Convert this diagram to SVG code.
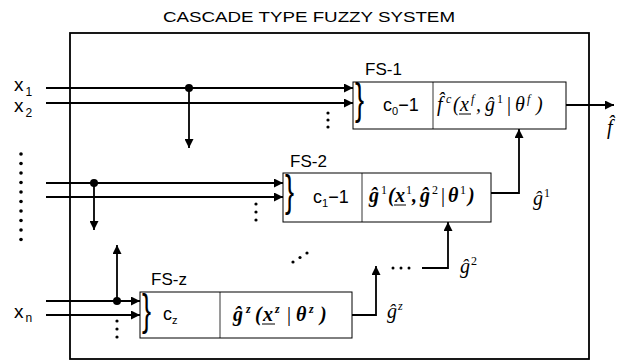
<svg xmlns="http://www.w3.org/2000/svg" width="625" height="363" viewBox="0 0 625 363">
<style>
.ln{stroke:#000;stroke-width:1.8;fill:none}
.bx{stroke:#000;stroke-width:1;fill:#fff}
.dv{stroke:#000;stroke-width:0.8}
.sans{font-family:"Liberation Sans",Arial,sans-serif;fill:#000}
.fm{font-family:"Liberation Serif","Times New Roman",serif;font-style:italic;font-size:20px;fill:#000}
.fb{font-family:"Liberation Serif","Times New Roman",serif;font-style:italic;font-weight:bold;font-size:20px;fill:#000}
.br{font-family:"Liberation Sans",Arial,sans-serif;font-size:30px;fill:#000}
.ul{stroke:#000;stroke-width:1}
.up{font-style:normal;font-weight:normal}
.sp{font-size:12px}
</style>
<defs>
<marker id="ah" viewBox="0 0 10 10" refX="10" refY="5" markerWidth="10" markerHeight="9" markerUnits="userSpaceOnUse" orient="auto">
<path d="M0,0 L10,5 L0,10 Z" fill="#000"/>
</marker>
</defs>
<rect width="625" height="363" fill="#fff"/>
<text class="sans" x="163" y="22" font-size="14.5" textLength="292" lengthAdjust="spacingAndGlyphs">CASCADE TYPE FUZZY SYSTEM</text>
<rect x="70" y="33" width="519" height="326" fill="none" stroke="#000" stroke-width="1.8"/>
<g id="inputs">
<text class="sans" x="14" y="91" font-size="19">x<tspan font-size="12" dx="2" dy="5">1</tspan></text>
<text class="sans" x="14" y="112" font-size="19">x<tspan font-size="12" dx="2" dy="5">2</tspan></text>
<text class="sans" x="14" y="318" font-size="19">x<tspan font-size="12" dx="2" dy="4">n</tspan></text>
<g fill="#000">
<circle cx="21" cy="154" r="1.8"/><circle cx="21" cy="163.5" r="1.8"/><circle cx="21" cy="173" r="1.8"/><circle cx="21" cy="182.5" r="1.8"/><circle cx="21" cy="192" r="1.8"/><circle cx="21" cy="201.5" r="1.8"/><circle cx="21" cy="211" r="1.8"/><circle cx="21" cy="220.5" r="1.8"/><circle cx="21" cy="230" r="1.8"/><circle cx="21" cy="239.5" r="1.8"/>
</g>
</g>
<g id="connectors">
<line class="ln" x1="46" y1="88" x2="353" y2="88" marker-end="url(#ah)"/>
<line class="ln" x1="46" y1="103" x2="353" y2="103" marker-end="url(#ah)"/>
<line class="ln" x1="189" y1="88" x2="189" y2="148" marker-end="url(#ah)"/>
<circle cx="189" cy="88" r="4" fill="#000"/>
<line class="ln" x1="46" y1="183" x2="283" y2="183" marker-end="url(#ah)"/>
<line class="ln" x1="46" y1="197" x2="283" y2="197" marker-end="url(#ah)"/>
<line class="ln" x1="94" y1="183" x2="94" y2="230" marker-end="url(#ah)"/>
<circle cx="94" cy="183" r="4" fill="#000"/>
<line class="ln" x1="46" y1="301" x2="140" y2="301" marker-end="url(#ah)"/>
<line class="ln" x1="46" y1="315" x2="140" y2="315" marker-end="url(#ah)"/>
<line class="ln" x1="117" y1="301" x2="117" y2="245" marker-end="url(#ah)"/>
<circle cx="117" cy="301" r="4" fill="#000"/>
<line class="ln" x1="566" y1="105" x2="614" y2="105" marker-end="url(#ah)"/>
<polyline class="ln" points="491,193 519,193 519,129" marker-end="url(#ah)"/>
<polyline class="ln" points="422,268 448,268 448,222" marker-end="url(#ah)"/>
<polyline class="ln" points="352,315 376,315 376,266" marker-end="url(#ah)"/>
<g fill="#000">
<circle cx="328" cy="113" r="1.6"/><circle cx="328" cy="120" r="1.6"/><circle cx="328" cy="127" r="1.6"/>
<circle cx="256" cy="204" r="1.6"/><circle cx="256" cy="212" r="1.6"/><circle cx="256" cy="220" r="1.6"/>
<circle cx="117" cy="321" r="1.6"/><circle cx="117" cy="329" r="1.6"/><circle cx="117" cy="337" r="1.6"/>
<circle cx="293" cy="262" r="1.6"/><circle cx="300" cy="257.5" r="1.6"/><circle cx="307" cy="253" r="1.6"/>
<circle cx="393" cy="268" r="1.5"/><circle cx="401" cy="268" r="1.5"/><circle cx="409" cy="268" r="1.5"/>
</g>
<text class="fm" x="607" y="134" font-size="21">f̂</text>
<text class="fm" x="533" y="205">ĝ<tspan class="up sp" dx="1" dy="-8">1</tspan></text>
<text class="fm" x="460" y="273">ĝ<tspan class="up sp" dx="1" dy="-8">2</tspan></text>
<text class="fm" x="387" y="318">ĝ<tspan class="sp" dx="1" dy="-8">z</tspan></text>
</g>
<g id="fs1">
<text class="sans" x="365" y="75" font-size="17">FS-1</text>
<rect class="bx" x="353" y="82" width="213" height="47"/>
<line class="dv" x1="433" y1="82" x2="433" y2="129"/>
<text class="br" transform="translate(355,114) scale(0.9,1.45)">}</text>
<text class="sans" x="383" y="111" font-size="18">c<tspan font-size="11" dy="4">0</tspan><tspan dy="-4">−1</tspan></text>
<text class="fm" y="111"><tspan x="437">f̂</tspan><tspan class="sp" x="446" y="103">c</tspan><tspan x="453" y="111">(</tspan><tspan x="460">x</tspan><tspan class="sp" x="471" y="103">f</tspan><tspan x="476" y="111">,</tspan><tspan x="485">ĝ</tspan><tspan class="up sp" x="497" y="103">1</tspan><tspan class="up" x="507" y="111">|</tspan><tspan x="515">θ</tspan><tspan class="sp" x="527" y="103">f</tspan><tspan x="536" y="111">)</tspan></text>
<line class="ul" x1="459" y1="114" x2="471" y2="114"/>
</g>
<g id="fs2">
<text class="sans" x="290" y="167" font-size="17">FS-2</text>
<rect class="bx" x="283" y="173" width="208" height="49"/>
<line class="dv" x1="362" y1="173" x2="362" y2="222"/>
<text class="br" transform="translate(285,206) scale(0.9,1.45)">}</text>
<text class="sans" x="313" y="203" font-size="18">c<tspan font-size="11" dy="4">1</tspan><tspan dy="-4">−1</tspan></text>
<text class="fb" y="202"><tspan x="369">ĝ</tspan><tspan class="up sp" x="381" y="194">1</tspan><tspan x="388" y="202">(</tspan><tspan x="395">x</tspan><tspan class="up sp" x="406" y="194">1</tspan><tspan x="412" y="202">,</tspan><tspan x="420">ĝ</tspan><tspan class="up sp" x="432" y="194">2</tspan><tspan class="up" x="441" y="202">|</tspan><tspan x="448">θ</tspan><tspan class="up sp" x="460" y="194">1</tspan><tspan x="468" y="202">)</tspan></text>
<line class="ul" x1="394" y1="205" x2="406" y2="205"/>
</g>
<g id="fsz">
<text class="sans" x="151" y="285" font-size="17">FS-z</text>
<rect class="bx" x="140" y="292" width="212" height="46"/>
<line class="dv" x1="220" y1="292" x2="220" y2="338"/>
<text class="br" transform="translate(142,325) scale(0.9,1.45)">}</text>
<text class="sans" x="163" y="320" font-size="18">c<tspan font-size="11" dy="4">z</tspan></text>
<text class="fb" y="321"><tspan x="233">ĝ</tspan><tspan class="sp" x="246" y="313">z</tspan><tspan x="255" y="321">(</tspan><tspan x="263">x</tspan><tspan class="sp" x="275" y="313">z</tspan><tspan class="up" x="287" y="321">|</tspan><tspan x="296">θ</tspan><tspan class="sp" x="309" y="313">z</tspan><tspan x="320" y="321">)</tspan></text>
<line class="ul" x1="262" y1="324" x2="275" y2="324"/>
</g>
</svg>
